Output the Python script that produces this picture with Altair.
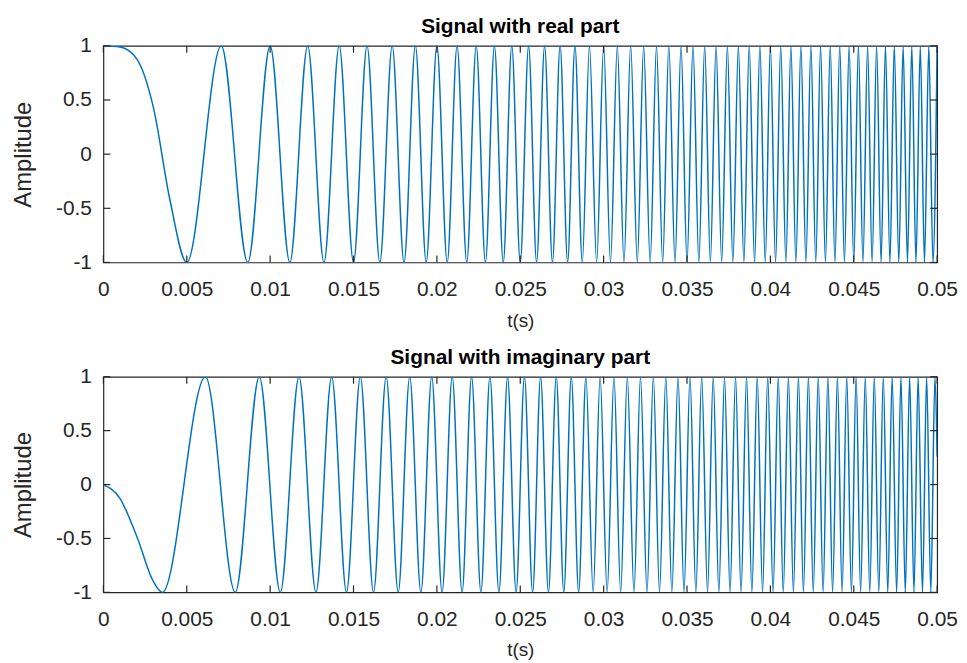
import altair as alt
import pandas as pd

FONT = "Liberation Sans"
LINE_COLOR = "#0072BD"
AXIS_COLOR = "#262626"

# ---------------- data ----------------
# Real part: start, a few points of the first slow lobe, then the successive peaks/troughs (s)
real_t = [
    0, 0.001, 0.002, 0.003, 0.004,
    0.005, 0.00707, 0.00866, 0.01, 0.01118, 0.01225, 0.01323, 0.01414, 0.015, 0.01581,
    0.01658, 0.01732, 0.01803, 0.01871, 0.01936, 0.02, 0.02062, 0.02121, 0.02179, 0.02236,
    0.02291, 0.02345, 0.02398, 0.02449, 0.025, 0.0255, 0.02598, 0.02646, 0.02693, 0.02739,
    0.02784, 0.02828, 0.02872, 0.02915, 0.02958, 0.03, 0.03041, 0.03082, 0.03122, 0.03162,
    0.03202, 0.0324, 0.03279, 0.03317, 0.03354, 0.03391, 0.03428, 0.03464, 0.035, 0.03536,
    0.03571, 0.03606, 0.0364, 0.03674, 0.03708, 0.03742, 0.03775, 0.03808, 0.03841, 0.03873,
    0.03905, 0.03937, 0.03969, 0.04, 0.04031, 0.04062, 0.04093, 0.04123, 0.04153, 0.04183,
    0.04213, 0.04243, 0.04272, 0.04301, 0.0433, 0.04359, 0.04387, 0.04416, 0.04444, 0.04472,
    0.045, 0.04528, 0.04555, 0.04583, 0.0461, 0.04637, 0.04664, 0.0469, 0.04717, 0.04743,
    0.0477, 0.04796, 0.04822, 0.04848, 0.04873, 0.04899, 0.04924, 0.0495, 0.04975, 0.05,
]
real_amp = [
    1, 0.99, 0.88, 0.43, -0.43,
    -1, 1, -1, 1, -1, 1, -1, 1, -1, 1, -1, 1, -1, 1, -1, 1, -1, 1, -1, 1,
    -1, 1, -1, 1, -1, 1, -1, 1, -1, 1, -1, 1, -1, 1, -1, 1, -1, 1, -1, 1,
    -1, 1, -1, 1, -1, 1, -1, 1, -1, 1, -1, 1, -1, 1, -1, 1, -1, 1, -1, 1,
    -1, 1, -1, 1, -1, 1, -1, 1, -1, 1, -1, 1, -1, 1, -1, 1, -1, 1, -1, 1,
    -1, 1, -1, 1, -1, 1, -1, 1, -1, 1, -1, 1, -1, 1, -1, 1, -1, 1, -1, 1,
]

# Imaginary part: start, first slow descent, successive troughs/peaks, last sample (s)
imag_t = [
    0, 0.001, 0.002, 0.003,
    0.00354, 0.00612, 0.00791, 0.00935, 0.01061, 0.01173, 0.01275, 0.01369, 0.01458, 0.01541,
    0.0162, 0.01696, 0.01768, 0.01837, 0.01904, 0.01969, 0.02031, 0.02092, 0.02151, 0.02208,
    0.02264, 0.02318, 0.02372, 0.02424, 0.02475, 0.02525, 0.02574, 0.02622, 0.02669, 0.02716,
    0.02761, 0.02806, 0.0285, 0.02894, 0.02937, 0.02979, 0.03021, 0.03062, 0.03102, 0.03142,
    0.03182, 0.03221, 0.0326, 0.03298, 0.03335, 0.03373, 0.03409, 0.03446, 0.03482, 0.03518,
    0.03553, 0.03588, 0.03623, 0.03657, 0.03691, 0.03725, 0.03758, 0.03791, 0.03824, 0.03857,
    0.03889, 0.03921, 0.03953, 0.03984, 0.04016, 0.04047, 0.04077, 0.04108, 0.04138, 0.04168,
    0.04198, 0.04228, 0.04257, 0.04287, 0.04316, 0.04345, 0.04373, 0.04402, 0.0443, 0.04458,
    0.04486, 0.04514, 0.04541, 0.04569, 0.04596, 0.04623, 0.0465, 0.04677, 0.04704, 0.0473,
    0.04757, 0.04783, 0.04809, 0.04835, 0.04861, 0.04886, 0.04912, 0.04937, 0.04962, 0.04987,
    0.05,
]
imag_amp = [
    0, -0.13, -0.48, -0.90,
    -1, 1, -1, 1, -1, 1, -1, 1, -1, 1, -1, 1, -1, 1, -1, 1, -1, 1, -1, 1,
    -1, 1, -1, 1, -1, 1, -1, 1, -1, 1, -1, 1, -1, 1, -1, 1, -1, 1, -1, 1,
    -1, 1, -1, 1, -1, 1, -1, 1, -1, 1, -1, 1, -1, 1, -1, 1, -1, 1, -1, 1,
    -1, 1, -1, 1, -1, 1, -1, 1, -1, 1, -1, 1, -1, 1, -1, 1, -1, 1, -1, 1,
    -1, 1, -1, 1, -1, 1, -1, 1, -1, 1, -1, 1, -1, 1, -1, 1, -1, 1, -1, 1,
    0.26,
]

x_ticks = [0, 0.005, 0.01, 0.015, 0.02, 0.025, 0.03, 0.035, 0.04, 0.045, 0.05]
y_ticks = [-1, -0.5, 0, 0.5, 1]

titles = ["Signal with real part", "Signal with imaginary part"]
x_title = "t(s)"
y_title = "Amplitude"

# ---------------- layout ----------------
W = 839
TICK_LEN = 7

x_scale = alt.Scale(domain=[0, 0.05], nice=False, zero=False)
y_scale = alt.Scale(domain=[-1, 1], nice=False, zero=False)

x_enc = alt.X(
    "t:Q",
    scale=x_scale,
    axis=alt.Axis(
        values=x_ticks,
        title=x_title,
        labelExpr="'' + datum.value",
        labelFlush=False,
        labelOverlap=False,
        labelPadding=16,
        minExtent=36,
        maxExtent=36,
        titlePadding=13,
        titleFontSize=19,
        labelFontSize=21,
    ),
)
y_enc = alt.Y(
    "amp:Q",
    scale=y_scale,
    axis=alt.Axis(
        values=y_ticks,
        title=y_title,
        labelExpr="'' + datum.value",
        labelFlush=False,
        labelOverlap=False,
        labelPadding=12,
        minExtent=47,
        maxExtent=47,
        titlePadding=21,
        titleFontSize=24,
        labelFontSize=21,
    ),
)


def panel(t_vals, a_vals, title, h):
    df = pd.DataFrame({"t": t_vals, "amp": a_vals})
    line = (
        alt.Chart(df)
        .mark_line(interpolate="monotone", color=LINE_COLOR, strokeWidth=1.5, clip=True)
        .encode(x=x_enc, y=y_enc)
    )
    xt = pd.DataFrame({"t": x_ticks})
    yt = pd.DataFrame({"amp": y_ticks})
    rule = dict(color=AXIS_COLOR, strokeWidth=1.2)
    tb = alt.Chart(xt).mark_rule(**rule).encode(
        x=x_enc, y=alt.value(h), y2=alt.value(h - TICK_LEN))
    tt = alt.Chart(xt).mark_rule(**rule).encode(
        x=x_enc, y=alt.value(0), y2=alt.value(TICK_LEN))
    tl = alt.Chart(yt).mark_rule(**rule).encode(
        y=y_enc, x=alt.value(0), x2=alt.value(TICK_LEN))
    tr = alt.Chart(yt).mark_rule(**rule).encode(
        y=y_enc, x=alt.value(W - TICK_LEN), x2=alt.value(W))
    return alt.layer(line, tb, tt, tl, tr).properties(
        width=W,
        height=h,
        title=alt.TitleParams(
            title, fontSize=21, fontWeight="bold", font=FONT, color="black",
            offset=-2, anchor="middle",
        ),
    )


top = panel(real_t, real_amp, titles[0], 218)
bottom = panel(imag_t, imag_amp, titles[1], 217)

chart = (
    alt.vconcat(top, bottom, spacing=15)
    .properties(padding={"top": 5, "left": 3, "right": 0, "bottom": 0})
    .configure(font=FONT)
    .configure_view(stroke=AXIS_COLOR, strokeWidth=1.2)
    .configure_axis(
        domain=False,
        ticks=False,
        tickSize=0,
        grid=False,
        labelFont=FONT,
        titleFont=FONT,
        labelColor=AXIS_COLOR,
        titleColor=AXIS_COLOR,
        titleFontWeight="normal",
    )
)

chart.save("out.html", embed_options={"renderer": "svg", "actions": False})
